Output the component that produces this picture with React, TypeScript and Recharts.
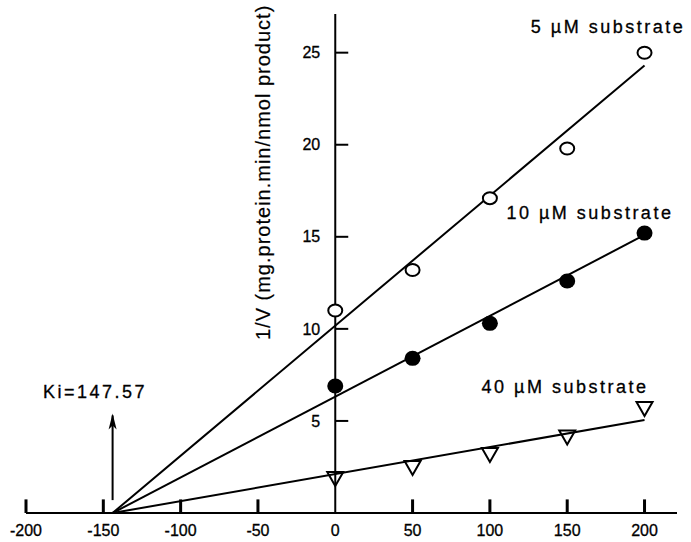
import {
  ComposedChart,
  Line,
  Scatter,
  XAxis,
  YAxis,
  ReferenceLine,
  ReferenceDot,
} from 'recharts';

// inhibitor concentration (x) and 1/V readings for each substrate level
const conc = [0, 50, 100, 150, 200];
const sub5 = [11.0, 13.2, 17.1, 19.8, 25.0];
const sub10 = [6.9, 8.4, 10.3, 12.6, 15.2];
const sub40 = [1.85, 2.45, 3.15, 4.1, 5.65];

// fitted lines: start at the common intercept, end at x = 200
const fitX = [-144, 200];
const fit5 = [0, 24.3];
const fit10 = [0, 15.1];
const fit40 = [0, 5.05];

const xTicks = [-200, -150, -100, -50, 0, 50, 100, 150, 200];
const yTicks = [5, 10, 15, 20, 25];

const kiLabel = 'Ki=147.57';
const yLabel = '1/V (mg.protein.min/nmol product)';

const toPoints = (xs: number[], ys: number[]) => xs.map((x, i) => ({ x, y: ys[i] }));

const FONT = 'Arial, "Liberation Sans", sans-serif';

const OpenCircle = (p: any) => (
  <ellipse cx={p.cx} cy={p.cy} rx={7} ry={6} fill="#fff" stroke="#000" strokeWidth={2} />
);
const FilledCircle = (p: any) => <ellipse cx={p.cx} cy={p.cy} rx={8} ry={7.5} fill="#000" />;
const Triangle = (p: any) => (
  <polygon
    points={`${p.cx - 8},${p.cy - 7} ${p.cx + 8},${p.cy - 7} ${p.cx},${p.cy + 7}`}
    fill="none"
    stroke="#000"
    strokeWidth={2}
  />
);
// inward tick mark on the x axis
const TickMark = (p: any) => (
  <rect x={p.cx - 1.5} y={p.cy - 9} width={3} height={13.6} fill="#000" />
);

const Arrow = (p: any) => {
  const top = Math.min(p.y1, p.y2);
  return (
    <g>
      <line x1={p.x1} y1={p.y1} x2={p.x2} y2={p.y2} stroke="#000" strokeWidth={2} />
      <polygon points={`${p.x2},${top - 2} ${p.x2 - 4},${top + 14} ${p.x2},${top + 10} ${p.x2 + 4},${top + 14}`} fill="#000" />
    </g>
  );
};

const tickText = { fontSize: 16, fill: '#000', fontFamily: FONT, stroke: '#000', strokeWidth: 0.3 };
const noteStyle = { fontSize: 18, fill: '#000', fontFamily: FONT, letterSpacing: 2.5, stroke: '#000', strokeWidth: 0.3 };

export default function App() {
  const tickMarks = xTicks.filter((t) => t !== 0).map((t) => ({ x: t, y: 0.25 }));
  return (
    <div style={{ position: 'absolute', left: 0, top: 0, background: '#fff' }}>
      <ComposedChart width={691} height={542} margin={{ top: 14, right: 14, bottom: 0, left: 26 }}>
        <XAxis
          type="number"
          dataKey="x"
          domain={[-200, 221]}
          ticks={xTicks}
          tickLine={false}
          tickSize={0}
          tickMargin={12}
          height={29}
          axisLine={{ stroke: '#000', strokeWidth: 2 }}
          tick={tickText}
        />
        <YAxis type="number" dataKey="y" domain={[0, 27.1]} hide />

        {/* y axis drawn through x = 0 */}
        <ReferenceLine
          segment={[{ x: 0, y: 0 }, { x: 0, y: 27.1 }]}
          stroke="#000"
          strokeWidth={2}
          ifOverflow="visible"
        />
        {yTicks.map((t) => (
          <ReferenceLine
            key={'y' + t}
            segment={[{ x: 0, y: t }, { x: 8.4, y: t }]}
            stroke="#000"
            strokeWidth={2}
            ifOverflow="visible"
            label={{ value: t, position: 'left', offset: 15, ...tickText }}
          />
        ))}

        <Line data={toPoints(fitX, fit5)} dataKey="y" stroke="#000" strokeWidth={2} dot={false} isAnimationActive={false} />
        <Line data={toPoints(fitX, fit10)} dataKey="y" stroke="#000" strokeWidth={2} dot={false} isAnimationActive={false} />
        <Line data={toPoints(fitX, fit40)} dataKey="y" stroke="#000" strokeWidth={2} dot={false} isAnimationActive={false} />

        <Scatter data={toPoints(conc, sub5)} dataKey="y" shape={OpenCircle} isAnimationActive={false} />
        <Scatter data={toPoints(conc, sub10)} dataKey="y" shape={FilledCircle} isAnimationActive={false} />
        <Scatter data={toPoints(conc, sub40)} dataKey="y" shape={Triangle} isAnimationActive={false} />
        <Scatter data={tickMarks} dataKey="y" shape={TickMark} isAnimationActive={false} />

        <ReferenceLine segment={[{ x: fitX[0], y: 0.7 }, { x: fitX[0], y: 5.3 }]} shape={Arrow} ifOverflow="visible" />

        <ReferenceDot x={176.4} y={26.4} r={0} fill="none" stroke="none"
          label={{ value: '5 µM substrate', position: 'center', ...noteStyle }} />
        <ReferenceDot x={164.7} y={16.3} r={0} fill="none" stroke="none"
          label={{ value: '10 µM substrate', position: 'center', ...noteStyle }} />
        <ReferenceDot x={148.6} y={6.84} r={0} fill="none" stroke="none"
          label={{ value: '40 µM substrate', position: 'center', ...noteStyle }} />
        <ReferenceDot x={-155.4} y={6.57} r={0} fill="none" stroke="none"
          label={{ value: kiLabel, position: 'center', ...noteStyle }} />
        <ReferenceDot x={-46.7} y={18.5} r={0} fill="none" stroke="none"
          label={{ value: yLabel, position: 'center', angle: -90, fontSize: 20, fill: '#000', fontFamily: FONT, letterSpacing: 1, stroke: '#000', strokeWidth: 0.2 }} />
      </ComposedChart>
    </div>
  );
}
